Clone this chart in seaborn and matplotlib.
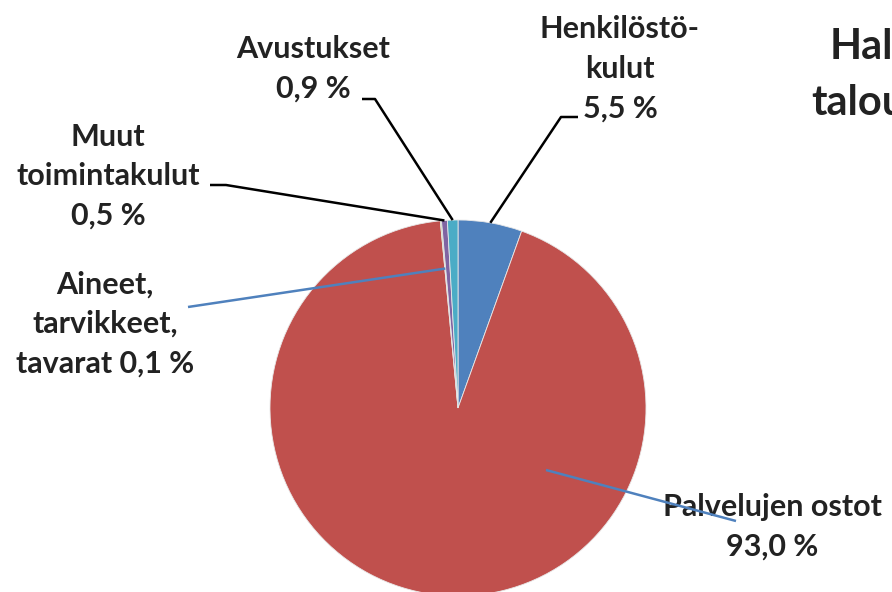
import numpy as np
import matplotlib
matplotlib.use("Agg")
import matplotlib.pyplot as plt
import seaborn as sns

categories = ["Henkilöstökulut", "Palvelujen ostot", "Aineet, tarvikkeet, tavarat",
              "Muut toimintakulut", "Avustukset"]
values = [5.5, 93.0, 0.1, 0.5, 0.9]
labels = ["Henkilöstö-\nkulut\n5,5 %", "Palvelujen ostot\n93,0 %",
          "Aineet,\ntarvikkeet,\ntavarat 0,1 %", "Muut\ntoimintakulut\n0,5 %",
          "Avustukset\n0,9 %"]
colors = ["#4F81BD", "#C0504D", "#9BBB59", "#8064A2", "#4BACC6"]
title_lines = ["Hal", "talou"]

sns.set_theme(style="white")
plt.rcParams['font.family'] = ['Lato', 'DejaVu Sans']

W, H = 892, 592
fig = plt.figure(figsize=(W / 100, H / 100), dpi=100)
ax = fig.add_axes([0, 0, 1, 1])

def P(x, y):
    return (x, H - y)

cx, cy = P(458, 408)
R = 188
wedges, _ = ax.pie(values, colors=colors, startangle=90, counterclock=False,
                   center=(cx, cy), radius=R, frame=True,
                   wedgeprops=dict(linewidth=0.6, edgecolor="#e8e8e8"))
ax.set_xlim(0, W)
ax.set_ylim(0, H)
ax.set_aspect('equal')
ax.axis('off')

def mid_point(w, frac=1.0):
    a = np.deg2rad((w.theta1 + w.theta2) / 2)
    return (cx + frac * R * np.cos(a), cy + frac * R * np.sin(a))

tc = "#222222"
fs = 22
ls = 1.5
txt = dict(ha="center", va="center", fontsize=fs, fontweight="bold", color=tc,
           linespacing=ls)

# labels
ax.text(*P(620, 69), labels[0], **txt)
ax.text(*P(772, 527), labels[1], **txt)
ax.text(*P(105, 324), labels[2], **txt)
ax.text(*P(108, 176), labels[3], **txt)
ax.text(*P(313, 69), labels[4], **txt)

# leader lines
def leader(pts, color="black", lw=1.8):
    xs = [p[0] for p in pts]
    ys = [p[1] for p in pts]
    ax.plot(xs, ys, color=color, lw=lw, solid_capstyle="butt", zorder=5)

leader([mid_point(wedges[0]), P(561, 117), P(578, 117)])
leader([mid_point(wedges[4]), P(375, 99), P(362, 99)])
leader([mid_point(wedges[3]), P(226, 185), P(210, 185)])
leader([mid_point(wedges[2], 0.745), P(188, 307)], color="#4F81BD")
leader([P(546, 470), P(736, 521)], color="#4F81BD")

# cropped title fragments
ax.text(*P(830, 47), title_lines[0], ha="left", va="center", fontsize=30,
        fontweight="bold", color=tc)
ax.text(*P(811, 103), title_lines[1], ha="left", va="center", fontsize=30,
        fontweight="bold", color=tc)

fig.savefig("out.png", dpi=100)
